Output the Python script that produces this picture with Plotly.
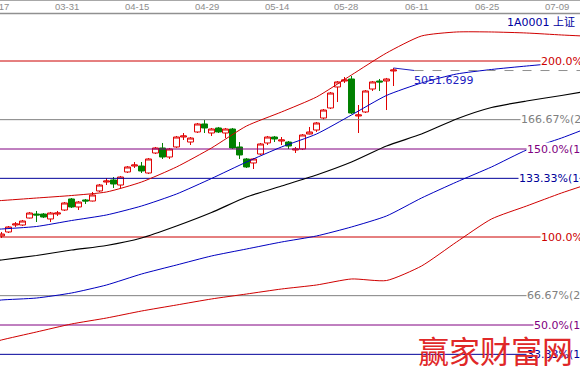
import plotly.graph_objects as go

# ---------------- data ----------------
base_price = 2596.0
level_pct = [200.0, 166.67, 150.0, 133.33, 100.0, 66.67, 50.0, 33.33]
level_labels = ["200.0%", "166.67%(2", "150.0%(1", "133.33%(1", "100.0%", "66.67%(2", "50.0%(1", "33.33%(1"]

date_idx = [0, 10, 20, 30, 40, 50, 60, 70, 80]
date_labels = ["03-17", "03-31", "04-15", "04-29", "05-14", "05-28", "06-11", "06-25", "07-09"]

candle_idx = list(range(57))
open_ = [2611, 2670, 2773, 2773, 2876, 2935, 2935, 2862, 2935, 2994,
         3157, 3039, 3142, 3127, 3275, 3407, 3437, 3363, 3555, 3643,
         3643, 3540, 3835, 3909, 3776, 3924, 4071, 3997, 4145, 4263,
         4130, 4204, 4130, 4189, 3924, 3747, 3688, 3820, 3983, 4071,
         4012, 3997, 3879, 3894, 4115, 4174, 4351, 4499, 4809, 4897,
         4927, 4381, 4440, 4779, 4897, 4897, 5045]
high = [2670, 2758, 2817, 2847, 2965, 2980, 2950, 2965, 2980, 3112,
        3171, 3127, 3157, 3260, 3378, 3466, 3481, 3496, 3643, 3702,
        3702, 3761, 3924, 3983, 3909, 4086, 4130, 4071, 4278, 4322,
        4204, 4219, 4204, 4204, 3997, 3761, 3761, 3983, 4086, 4086,
        4071, 4012, 3924, 4115, 4219, 4292, 4484, 4735, 4897, 4956,
        4971, 4543, 4764, 4897, 4927, 4942, 5089]
low = [2581, 2655, 2744, 2758, 2870, 2817, 2876, 2817, 2906, 2980,
       3024, 2994, 3083, 3120, 3260, 3363, 3319, 3319, 3540, 3614,
       3540, 3525, 3820, 3747, 3747, 3909, 4027, 3953, 4130, 4130,
       4086, 4130, 4056, 3894, 3747, 3614, 3599, 3806, 3953, 3997,
       3953, 3894, 3835, 3879, 4110, 4145, 4322, 4484, 4587, 4868,
       4410, 4130, 4425, 4750, 4750, 4469, 4823]
close = [2640, 2744, 2788, 2832, 2950, 2921, 2891, 2950, 2950, 3098,
         3039, 3112, 3127, 3216, 3363, 3422, 3378, 3481, 3629, 3658,
         3570, 3747, 3909, 3776, 3894, 4071, 4086, 4056, 4263, 4204,
         4189, 4145, 4189, 3909, 3806, 3629, 3747, 3968, 4071, 4042,
         4027, 3938, 3894, 4101, 4145, 4278, 4469, 4720, 4883, 4912,
         4425, 4396, 4750, 4883, 4883, 4927, 5059]

line_idx = [-1, 0, 5, 10, 15, 20, 25, 30, 35, 40, 45, 50, 55, 60, 65, 70, 75, 80, 83]
upper_red = [3127, 3134, 3171, 3208, 3260, 3407, 3629, 3909, 4233, 4440,
             4661, 4986, 5310, 5561, 5620, 5620, 5605, 5576, 5561]
upper_blue = [2707, 2714, 2751, 2839, 2921, 3053, 3230, 3459, 3702, 3924,
              4115, 4396, 4684, 4868, 5000, 5067, 5118, 5163, 5177]
mid_black = [2242, 2257, 2323, 2404, 2471, 2581, 2758, 2957, 3186, 3348,
             3511, 3702, 3938, 4115, 4337, 4506, 4602, 4683, 4735]
lower_blue = [1652, 1667, 1696, 1770, 1888, 2050, 2183, 2316, 2419, 2522,
              2611, 2744, 2906, 3171, 3407, 3629, 3879, 4056, 4174]
lower_red = [1047, 1077, 1195, 1313, 1401, 1504, 1593, 1682, 1755, 1829,
             1888, 1977, 1954, 2168, 2522, 2862, 3053, 3245, 3348]

peak_value = 5051.6299
peak_label = "5051.6299"
peak_line_idx = [59, 83]
title_text = "1A0001 上证"
watermark = "赢家财富网"

# ---------------- styles ----------------
level_colors = ["#cc0000", "#808080", "#800080", "#000099",
                "#cc0000", "#808080", "#800080", "#000099"]
label_left_px = [540, 520, 526, 518, 540, 526, 533, 526]
W, H = 580, 368
top_px = 14
px_per_day = 7.0
x0_px = 1.5

x_lo = -x0_px / px_per_day
x_hi = (W - x0_px) / px_per_day
y_lo = base_price * (1 + (237 - H) / 176.0)
y_hi = base_price * (1 + (237 - top_px) / 176.0)

fig = go.Figure()

# horizontal level lines
for p, c in zip(level_pct, level_colors):
    v = base_price * p / 100.0
    fig.add_trace(go.Scatter(x=[line_idx[0], line_idx[-1]], y=[v, v], mode="lines",
                             line=dict(color=c, width=1), hoverinfo="skip", showlegend=False))

# band / MA lines
for ys, c, w in [(upper_red, "#d00000", 1), (upper_blue, "#0000c0", 1),
                 (mid_black, "#000000", 1.2), (lower_blue, "#0000c0", 1),
                 (lower_red, "#d00000", 1)]:
    fig.add_trace(go.Scatter(x=line_idx, y=ys, mode="lines",
                             line=dict(color=c, width=w, shape="spline", smoothing=0.6),
                             hoverinfo="skip", showlegend=False))

# candles
fig.add_trace(go.Candlestick(
    x=candle_idx, open=open_, high=high, low=low, close=close,
    increasing=dict(line=dict(color="#e00000", width=1), fillcolor="#ffffff"),
    decreasing=dict(line=dict(color="#008000", width=1), fillcolor="#008000"),
    whiskerwidth=0, hoverinfo="skip", showlegend=False))

# peak pointer + dashed line
fig.add_trace(go.Scatter(x=[candle_idx[-1], peak_line_idx[0]], y=[high[-1], peak_value],
                         mode="lines", line=dict(color="#2020c0", width=1),
                         hoverinfo="skip", showlegend=False))
fig.add_trace(go.Scatter(x=peak_line_idx, y=[peak_value, peak_value], mode="lines",
                         line=dict(color="#909090", width=1, dash="dash"),
                         hoverinfo="skip", showlegend=False))

ann = []
for p, lab, c, lx in zip(level_pct, level_labels, level_colors, label_left_px):
    ann.append(dict(x=lx / W, xref="paper", y=base_price * p / 100.0, yref="y",
                    text=lab, showarrow=False, xanchor="left", yanchor="middle",
                    font=dict(family="DejaVu Sans", size=11, color=c),
                    bgcolor="#ffffff", borderpad=0))
for i, d in zip(date_idx, date_labels):
    xp = (i * px_per_day + x0_px - 5) / W
    ann.append(dict(x=xp, xref="paper", y=(H - 6.5) / (H - top_px), yref="paper",
                    text=d, showarrow=False, xanchor="center", yanchor="middle",
                    font=dict(family="Liberation Sans", size=9.5, color="#8c8c8c")))
ann.append(dict(x=peak_line_idx[0] - 0.3, xref="x", y=peak_value, yref="y", yshift=-10,
                text=peak_label, showarrow=False, xanchor="left", yanchor="middle",
                font=dict(family="DejaVu Sans", size=11, color="#2020c0")))
ann.append(dict(x=505 / W, xref="paper", y=(H - 22) / (H - top_px), yref="paper",
                text=title_text, showarrow=False, xanchor="left", yanchor="middle",
                font=dict(family="DejaVu Sans, Noto Sans CJK SC", size=11, color="#0000a0")))
ann.append(dict(x=495 / W, xref="paper", y=(H - 349) / (H - top_px), yref="paper",
                text=watermark, showarrow=False, xanchor="center", yanchor="middle",
                font=dict(family="Noto Sans CJK SC", size=31, color="#e02828")))

shapes = [
    dict(type="line", xref="paper", yref="paper", x0=0, x1=1,
         y0=(H - 0.5) / (H - top_px), y1=(H - 0.5) / (H - top_px),
         line=dict(color="#a8a8a8", width=1)),
    dict(type="line", xref="paper", yref="paper", x0=0, x1=1,
         y0=(H - 13.5) / (H - top_px), y1=(H - 13.5) / (H - top_px),
         line=dict(color="#909090", width=1.5)),
]

fig.update_layout(
    width=W, height=H,
    margin=dict(l=0, r=0, t=top_px, b=0),
    paper_bgcolor="#ffffff", plot_bgcolor="#ffffff",
    xaxis=dict(range=[x_lo, x_hi], visible=False, rangeslider=dict(visible=False),
               fixedrange=True),
    yaxis=dict(range=[y_lo, y_hi], visible=False, fixedrange=True),
    annotations=ann, shapes=shapes, boxgap=0.15, boxgroupgap=0,
    showlegend=False,
)

fig.write_html("out.html")
